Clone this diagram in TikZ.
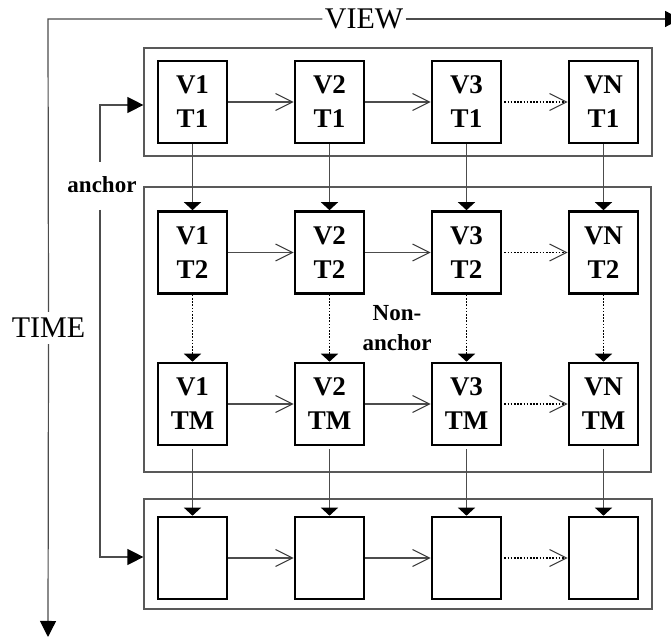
\documentclass[tikz,border=0pt]{standalone}
\usepackage{fontspec}
\setmainfont{Liberation Serif}
\usetikzlibrary{arrows.meta}

\begin{document}
\begin{tikzpicture}[x=0.5pt,y=-0.5pt,
  cell/.style={draw,line width=1.3pt,minimum width=34.5pt,minimum height=41pt,
    inner sep=0pt,align=center,font=\bfseries\fontsize{13.5}{17}\selectfont},
  group/.style={draw,black!65,line width=0.6pt,inner sep=0pt},
  axislabel/.style={fill=white,inner xsep=1pt,inner ysep=3pt,
    font=\fontsize{15}{18}\selectfont},
  note/.style={align=center,font=\bfseries\fontsize{11.5}{15}\selectfont},
  link/.style={black!70,line width=0.6pt,
    -{Straight Barb[length=8.5pt,width=8.5pt,line width=0.5pt,black!80]}},
  dotlink/.style={link,black,line width=0.9pt,dash pattern=on 0.8pt off 0.8pt,
    shorten <=1pt},
  down/.style={black!70,line width=0.6pt,-{Triangle[length=4pt,width=8.5pt,black]}},
  dotdown/.style={down,black,line width=0.9pt,dash pattern=on 0.8pt off 0.8pt},
  bigarrow/.style={black!70,line width=0.6pt,-{Triangle[length=8pt,width=8pt,black]}}]

  \path[use as bounding box] (0,0) rectangle (671,640);

  % view and time axes
  \coordinate (origin) at (48,19);
  \coordinate (viewend) at (681,19);
  \coordinate (timeend) at (48,637);
  \node (view) [axislabel] at (364,19) {VIEW};
  \node (time) [axislabel] at (48.5,328) {TIME};
  \draw[black!70,line width=0.6pt] (view.west) -- (origin) -- (time.north);
  \draw[bigarrow] (view.east) -- (viewend);
  \draw[bigarrow] (time.south) -- (timeend);

  % groups
  \node (top) [group,minimum width=254pt,minimum height=54pt] at (398,102) {};
  \node (middle) [group,minimum width=253.5pt,minimum height=142.5pt] at (397.5,329.5) {};
  \node (bottom) [group,minimum width=254pt,minimum height=55pt] at (398,554) {};

  % first row
  \node (v1t1) [cell] at (192.5,102) {V1\\T1};
  \node (v2t1) [cell] at (329.5,102) {V2\\T1};
  \node (v3t1) [cell] at (466.5,102) {V3\\T1};
  \node (vnt1) [cell] at (603.5,102) {VN\\T1};

  % second row
  \node (v1t2) [cell] at (192.5,252.5) {V1\\T2};
  \node (v2t2) [cell] at (329.5,252.5) {V2\\T2};
  \node (v3t2) [cell] at (466.5,252.5) {V3\\T2};
  \node (vnt2) [cell] at (603.5,252.5) {VN\\T2};

  % last row of non-anchor
  \node (v1tm) [cell] at (192.5,404) {V1\\TM};
  \node (v2tm) [cell] at (329.5,404) {V2\\TM};
  \node (v3tm) [cell] at (466.5,404) {V3\\TM};
  \node (vntm) [cell] at (603.5,404) {VN\\TM};

  % next anchor row
  \node (v1b) [cell] at (192.5,558) {};
  \node (v2b) [cell] at (329.5,558) {};
  \node (v3b) [cell] at (466.5,558) {};
  \node (vnb) [cell] at (603.5,558) {};

  % labels
  \node (anchor) [note] at (102,185) {anchor};
  \node (nonanchor) [note] at (397,328) {Non-\\anchor};

  % anchor arrows
  \coordinate (anchorup) at (100,162);
  \coordinate (anchordown) at (100,210);
  \draw[bigarrow] (anchorup) |- ([yshift=-1.5pt]top.west);
  \draw[bigarrow] (anchordown) |- ([yshift=-1.5pt]bottom.west);

  % along view
  \draw[link] (v1t1) -- (v2t1);
  \draw[link] (v2t1) -- (v3t1);
  \draw[dotlink] (v3t1) -- (vnt1);
  \draw[link] (v1t2) -- (v2t2);
  \draw[link] (v2t2) -- (v3t2);
  \draw[dotlink] (v3t2) -- (vnt2);
  \draw[link] (v1tm) -- (v2tm);
  \draw[link] (v2tm) -- (v3tm);
  \draw[dotlink] (v3tm) -- (vntm);
  \draw[link] (v1b) -- (v2b);
  \draw[link] (v2b) -- (v3b);
  \draw[dotlink] (v3b) -- (vnb);

  % along time
  \draw[down] (v1t1) -- (v1t2);
  \draw[down] (v2t1) -- (v2t2);
  \draw[down] (v3t1) -- (v3t2);
  \draw[down] (vnt1) -- (vnt2);
  \draw[dotdown] (v1t2) -- (v1tm);
  \draw[dotdown] (v2t2) -- (v2tm);
  \draw[dotdown] (v3t2) -- (v3tm);
  \draw[dotdown] (vnt2) -- (vntm);
  \draw[down,shorten <=1.5pt] (v1tm) -- (v1b);
  \draw[down,shorten <=1.5pt] (v2tm) -- (v2b);
  \draw[down,shorten <=1.5pt] (v3tm) -- (v3b);
  \draw[down,shorten <=1.5pt] (vntm) -- (vnb);

\end{tikzpicture}
\end{document}
